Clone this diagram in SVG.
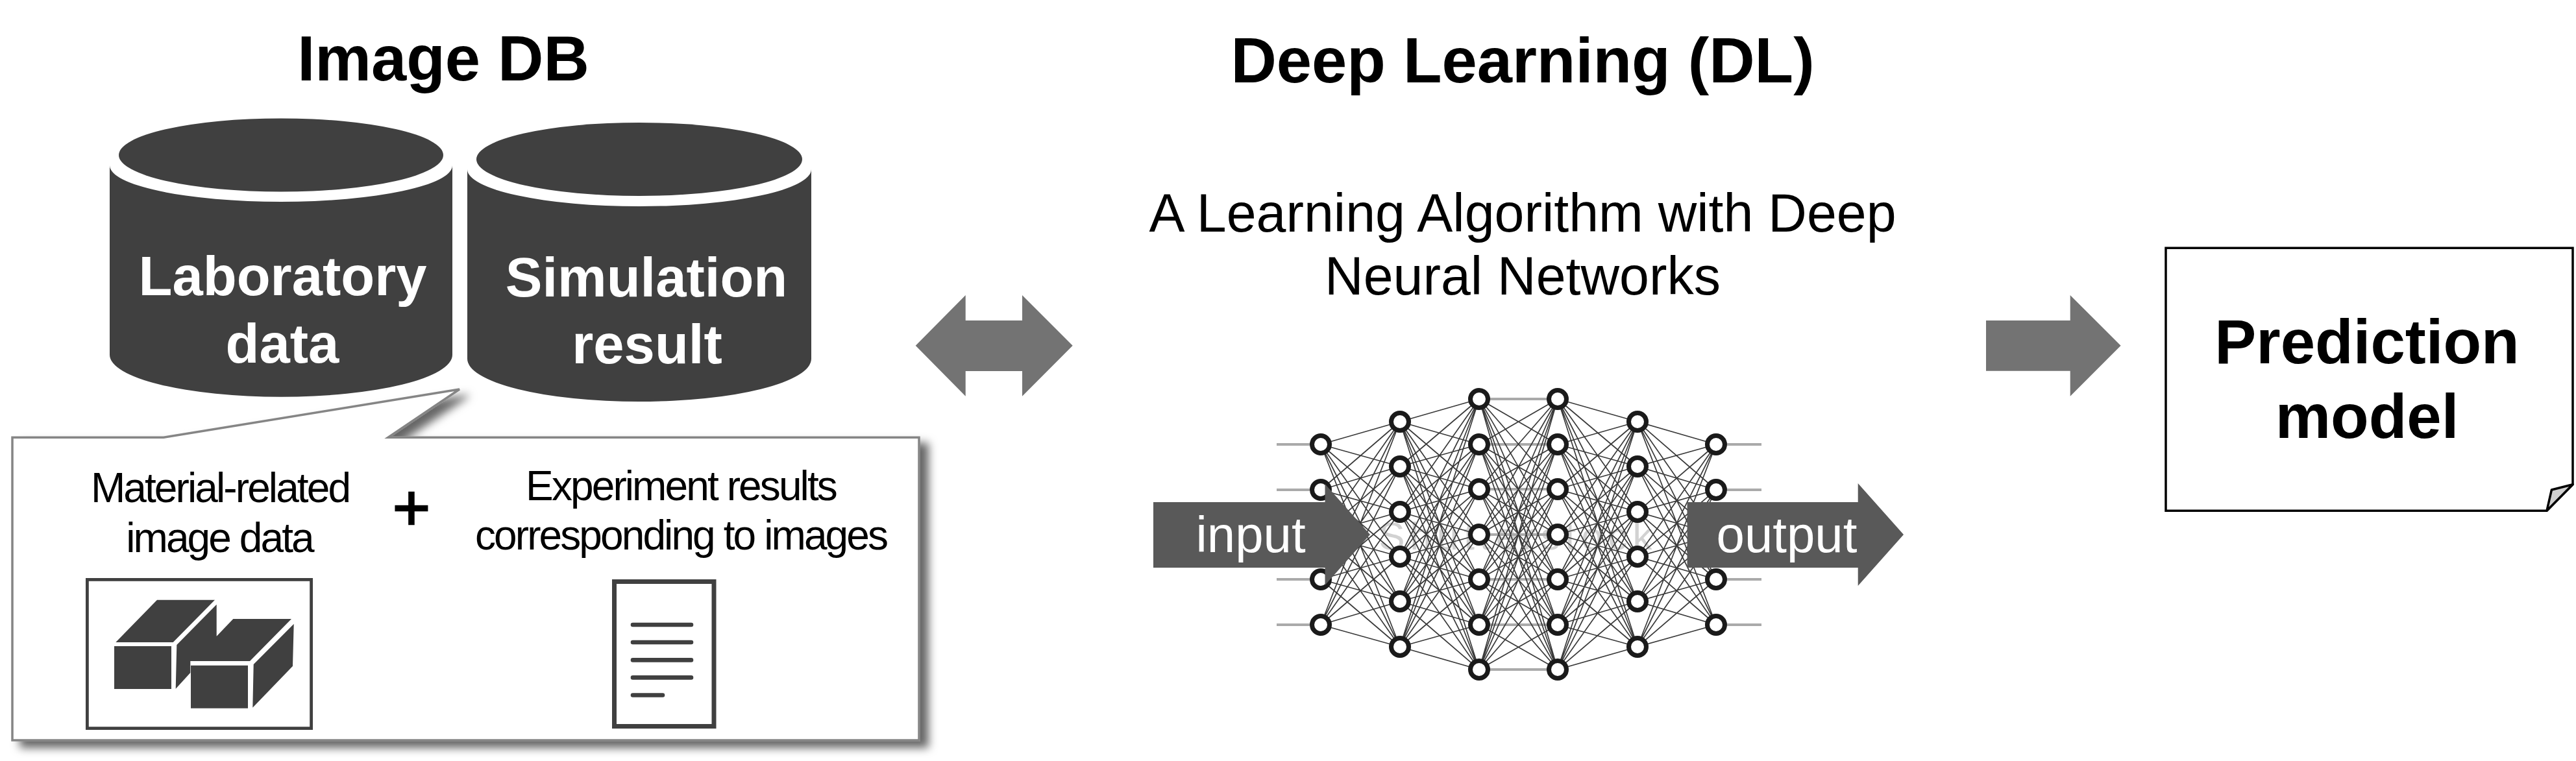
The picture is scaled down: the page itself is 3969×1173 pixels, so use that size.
<svg xmlns="http://www.w3.org/2000/svg" width="3969" height="1173" viewBox="0 0 3969 1173">
<style>
text{font-family:"Liberation Sans",Arial,sans-serif;text-anchor:middle}
.t{font-size:97.500px;font-weight:700;fill:#000}
.p{font-size:96px;font-weight:700;fill:#000}
.c{font-size:85px;font-weight:700;fill:#fff}
.s{font-size:64px;fill:#000;letter-spacing:-2.900px}
.h{font-size:82.500px;fill:#000}
.io{font-size:78px;fill:#fff}
.d{fill:#404040}
.e{fill:none;stroke:#3a3a3a;stroke-width:1.7}
.g{fill:none;stroke:#aaa;stroke-width:4}
.n{fill:#fff;stroke:#1a1a1a;stroke-width:7}
.l{fill:none;stroke:#404040;stroke-width:6.600;stroke-linecap:round}
</style>
<defs><filter id="sh" x="-5%" y="-5%" width="112%" height="115%"><feDropShadow dx="13" dy="10" stdDeviation="7" flood-color="#000" flood-opacity=".6"/></filter></defs>
<rect width="3969" height="1173" fill="#fff"/>
<g id="title-db"><text class="t" x="683" y="124">Image DB</text></g>
<g id="title-dl"><text class="t" x="2346" y="127">Deep Learning (DL)</text></g>
<g id="subtitle"><text class="h" x="2346" y="357">A Learning Algorithm with Deep</text><text class="h" x="2346" y="454">Neural Networks</text></g>
<g id="callout">
<path d="M19 674.300H252L708 600L598 674.300H1416V1141H19Z" fill="#fff" stroke="#858585" stroke-width="3.500" filter="url(#sh)"/>
<text class="s" x="339" y="774">Material-related</text>
<text class="s" x="338" y="851">image data</text>
<text x="634" y="817" font-size="100" fill="#000" stroke="#000" stroke-width="2.400">+</text>
<text class="s" x="1049" y="770.500">Experiment results</text>
<text class="s" x="1049" y="846.700">corresponding to images</text>
</g>
<g id="image-icon">
<rect x="134.400" y="893.400" width="345.200" height="229.200" fill="#fff" stroke="#404040" stroke-width="4.800"/>
<path class="d" d="M178.300 990L242 924.700H331L266.700 990ZM176 996H264V1062H176ZM272.300 994L333.700 931.700V980.700L359.300 954H449L385 1019H293.300V1037L270.700 1061.700ZM294 1025.700H382V1091.700H294ZM390.700 1024L452.700 961.700L451 1026.700L389.300 1090.700Z"/>
</g>
<g id="document-icon">
<rect x="946.500" y="896.500" width="153.500" height="223" fill="#fff" stroke="#404040" stroke-width="7"/>
<path class="l" d="M975 963H1065M975 990H1065M975 1017.400H1065M975 1044.400H1065M975 1071.500H1021"/>
</g>
<g id="db-laboratory">
<path class="d" d="M169 255A264 56 0 0 0 697 255V547A264 64.700 0 0 1 169 547Z"/>
<ellipse class="d" cx="433" cy="239" rx="250" ry="56.500"/>
<text class="c" x="435.500" y="455">Laboratory</text><text class="c" x="435" y="559">data</text>
</g>
<g id="db-simulation">
<path class="d" d="M720 261A265 57 0 0 0 1250 261V553A265 66 0 0 1 720 553Z"/>
<ellipse class="d" cx="985" cy="245.500" rx="251" ry="56.500"/>
<text class="c" x="996" y="457">Simulation</text><text class="c" x="997" y="560">result</text>
</g>
<g id="connectors">
<path id="arrow-both" fill="#737373" d="M1410.700 532.700L1487.700 455V494H1575V455L1652.700 532.700L1575 610.700V572H1487.700V610.700Z"/>
<path id="arrow-right" fill="#737373" d="M3060 494H3189.700V455L3267.600 532.700L3189.700 610.700V571.700H3060Z"/>
</g>
<g id="network">
<text x="2335" y="847" font-size="60" fill="#d2d2d2" textLength="421">Shutterstock</text>
<path class="g" d="M1967 685H2018M1967 755H2018M1967 893H2018M1967 963H2018M2661 685H2714M2661 755H2714M2661 893H2714M2661 963H2714M2279 615H2400M2279 685H2400M2279 754H2400M2279 824H2400M2279 893H2400M2279 963H2400M2279 1032H2400"/>
<path class="e" d="M2035 685L2157 650M2035 685L2157 719M2035 685L2157 789M2035 685L2157 858M2035 685L2157 927M2035 685L2157 997M2035 755L2157 650M2035 755L2157 719M2035 755L2157 789M2035 755L2157 858M2035 755L2157 927M2035 755L2157 997M2035 824L2157 650M2035 824L2157 719M2035 824L2157 789M2035 824L2157 858M2035 824L2157 927M2035 824L2157 997M2035 893L2157 650M2035 893L2157 719M2035 893L2157 789M2035 893L2157 858M2035 893L2157 927M2035 893L2157 997M2035 963L2157 650M2035 963L2157 719M2035 963L2157 789M2035 963L2157 858M2035 963L2157 927M2035 963L2157 997"/>
<path class="e" d="M2157 650L2279 615M2157 650L2279 685M2157 650L2279 754M2157 650L2279 824M2157 650L2279 893M2157 650L2279 963M2157 650L2279 1032M2157 719L2279 615M2157 719L2279 685M2157 719L2279 754M2157 719L2279 824M2157 719L2279 893M2157 719L2279 963M2157 719L2279 1032M2157 789L2279 615M2157 789L2279 685M2157 789L2279 754M2157 789L2279 824M2157 789L2279 893M2157 789L2279 963M2157 789L2279 1032M2157 858L2279 615M2157 858L2279 685M2157 858L2279 754M2157 858L2279 824M2157 858L2279 893M2157 858L2279 963M2157 858L2279 1032M2157 927L2279 615M2157 927L2279 685M2157 927L2279 754M2157 927L2279 824M2157 927L2279 893M2157 927L2279 963M2157 927L2279 1032M2157 997L2279 615M2157 997L2279 685M2157 997L2279 754M2157 997L2279 824M2157 997L2279 893M2157 997L2279 963M2157 997L2279 1032"/>
<path class="e" d="M2279 615L2400 685M2279 615L2400 754M2279 615L2400 824M2279 615L2400 893M2279 615L2400 963M2279 615L2400 1032M2279 685L2400 615M2279 685L2400 754M2279 685L2400 824M2279 685L2400 893M2279 685L2400 963M2279 685L2400 1032M2279 754L2400 615M2279 754L2400 685M2279 754L2400 824M2279 754L2400 893M2279 754L2400 963M2279 754L2400 1032M2279 824L2400 615M2279 824L2400 685M2279 824L2400 754M2279 824L2400 893M2279 824L2400 963M2279 824L2400 1032M2279 893L2400 615M2279 893L2400 685M2279 893L2400 754M2279 893L2400 824M2279 893L2400 963M2279 893L2400 1032M2279 963L2400 615M2279 963L2400 685M2279 963L2400 754M2279 963L2400 824M2279 963L2400 893M2279 963L2400 1032M2279 1032L2400 615M2279 1032L2400 685M2279 1032L2400 754M2279 1032L2400 824M2279 1032L2400 893M2279 1032L2400 963"/>
<path class="e" d="M2523 650L2400 615M2523 650L2400 685M2523 650L2400 754M2523 650L2400 824M2523 650L2400 893M2523 650L2400 963M2523 650L2400 1032M2523 719L2400 615M2523 719L2400 685M2523 719L2400 754M2523 719L2400 824M2523 719L2400 893M2523 719L2400 963M2523 719L2400 1032M2523 789L2400 615M2523 789L2400 685M2523 789L2400 754M2523 789L2400 824M2523 789L2400 893M2523 789L2400 963M2523 789L2400 1032M2523 858L2400 615M2523 858L2400 685M2523 858L2400 754M2523 858L2400 824M2523 858L2400 893M2523 858L2400 963M2523 858L2400 1032M2523 927L2400 615M2523 927L2400 685M2523 927L2400 754M2523 927L2400 824M2523 927L2400 893M2523 927L2400 963M2523 927L2400 1032M2523 997L2400 615M2523 997L2400 685M2523 997L2400 754M2523 997L2400 824M2523 997L2400 893M2523 997L2400 963M2523 997L2400 1032"/>
<path class="e" d="M2644 685L2523 650M2644 685L2523 719M2644 685L2523 789M2644 685L2523 858M2644 685L2523 927M2644 685L2523 997M2644 755L2523 650M2644 755L2523 719M2644 755L2523 789M2644 755L2523 858M2644 755L2523 927M2644 755L2523 997M2644 824L2523 650M2644 824L2523 719M2644 824L2523 789M2644 824L2523 858M2644 824L2523 927M2644 824L2523 997M2644 893L2523 650M2644 893L2523 719M2644 893L2523 789M2644 893L2523 858M2644 893L2523 927M2644 893L2523 997M2644 963L2523 650M2644 963L2523 719M2644 963L2523 789M2644 963L2523 858M2644 963L2523 927M2644 963L2523 997"/>
<g id="net-nodes">
<circle class="n" cx="2035" cy="685" r="13.500"/><circle class="n" cx="2035" cy="755" r="13.500"/><circle class="n" cx="2035" cy="893" r="13.500"/><circle class="n" cx="2035" cy="963" r="13.500"/>
<circle class="n" cx="2157" cy="650" r="13.500"/><circle class="n" cx="2157" cy="719" r="13.500"/><circle class="n" cx="2157" cy="789" r="13.500"/><circle class="n" cx="2157" cy="858" r="13.500"/><circle class="n" cx="2157" cy="927" r="13.500"/><circle class="n" cx="2157" cy="997" r="13.500"/>
<circle class="n" cx="2279" cy="615" r="13.500"/><circle class="n" cx="2279" cy="685" r="13.500"/><circle class="n" cx="2279" cy="754" r="13.500"/><circle class="n" cx="2279" cy="824" r="13.500"/><circle class="n" cx="2279" cy="893" r="13.500"/><circle class="n" cx="2279" cy="963" r="13.500"/><circle class="n" cx="2279" cy="1032" r="13.500"/>
<circle class="n" cx="2400" cy="615" r="13.500"/><circle class="n" cx="2400" cy="685" r="13.500"/><circle class="n" cx="2400" cy="754" r="13.500"/><circle class="n" cx="2400" cy="824" r="13.500"/><circle class="n" cx="2400" cy="893" r="13.500"/><circle class="n" cx="2400" cy="963" r="13.500"/><circle class="n" cx="2400" cy="1032" r="13.500"/>
<circle class="n" cx="2523" cy="650" r="13.500"/><circle class="n" cx="2523" cy="719" r="13.500"/><circle class="n" cx="2523" cy="789" r="13.500"/><circle class="n" cx="2523" cy="858" r="13.500"/><circle class="n" cx="2523" cy="927" r="13.500"/><circle class="n" cx="2523" cy="997" r="13.500"/>
<circle class="n" cx="2644" cy="685" r="13.500"/><circle class="n" cx="2644" cy="755" r="13.500"/><circle class="n" cx="2644" cy="893" r="13.500"/><circle class="n" cx="2644" cy="963" r="13.500"/>
</g>
</g>
<g id="input-arrow"><path fill="#595959" d="M1777 774H2041.500V746L2111 824L2041.500 902V875H1777Z"/><text class="io" x="1927" y="851">input</text></g>
<g id="output-arrow"><path fill="#595959" d="M2599.500 774H2862.700V745L2933 824L2862.700 903V875H2599.500Z"/><text class="io" x="2753" y="851">output</text></g>
<g id="prediction-model">
<path d="M3337 382.300H3964V746.700L3924 787.300H3337Z" fill="#fff" stroke="#000" stroke-width="3.500"/>
<path d="M3964 746.700L3931.400 755L3924 787.300Z" fill="#d0d0d0" stroke="#000" stroke-width="3.500" stroke-linejoin="round"/>
<text class="p" x="3647" y="560">Prediction</text><text class="p" x="3647" y="675">model</text>
</g>
</svg>
